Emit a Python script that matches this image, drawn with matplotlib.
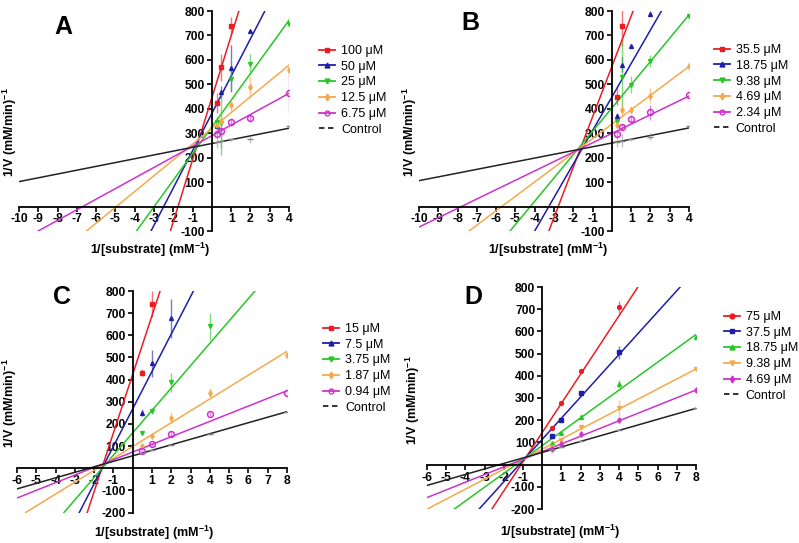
import numpy as np
import matplotlib
matplotlib.use("Agg")
import matplotlib.pyplot as plt
from matplotlib.lines import Line2D

plt.rcParams['font.family'] = ['Liberation Sans', 'DejaVu Sans']
plt.rcParams['mathtext.fontset'] = 'custom'
plt.rcParams['mathtext.rm'] = 'Liberation Sans:bold'
plt.rcParams['mathtext.default'] = 'rm'
plt.rcParams['axes.unicode_minus'] = False

nan = np.nan
colores = ['#ec1c24', '#1e1ea8', '#27c627', '#f6a94c', '#cc33cc', '#222222']

# ---- Panel A ----
a_etiq = ['100 \u03bcM', '50 \u03bcM', '25 \u03bcM', '12.5 \u03bcM', '6.75 \u03bcM', 'Control']
a_x = [0.25, 0.5, 1, 2, 4]
a_y = [[423, 570, 740, nan, nan],
       [330, 470, 565, 718, nan],
       [345, 341, 522, 585, 748],
       [335, 348, 416, 490, 560],
       [298, 310, 344, 362, 464],
       [265, 270, 275, 275, 330]]
a_err = [[40, 55, 35, 0, 0],
         [15, 25, 95, 5, 0],
         [20, 130, 40, 40, 35],
         [15, 30, 25, 45, 30],
         [15, 15, 15, 15, 80],
         [25, 30, 5, 15, 30]]
a_pend = [253.5, 152.5, 109, 64.6, 43.3, 15.6]
a_corte = [445, 381, 326, 320, 290, 258]

# ---- Panel B ----
b_etiq = ['35.5 \u03bcM', '18.75 \u03bcM', '9.38 \u03bcM', '4.69 \u03bcM', '2.34 \u03bcM', 'Control']
b_x = [0.25, 0.5, 1, 2, 4]
b_y = [[450, 738, nan, nan, nan],
       [371, 580, 657, 788, nan],
       [351, 532, 498, 596, 781],
       [335, 396, 396, 454, 573],
       [298, 324, 358, 386, 457],
       [265, 270, 275, 286, 330]]
b_err = [[35, 80, 0, 0, 0],
         [10, 30, 10, 10, 0],
         [15, 140, 35, 25, 30],
         [15, 30, 15, 30, 25],
         [15, 15, 15, 30, 25],
         [20, 25, 5, 15, 30]]
b_pend = [206, 137, 95.3, 59, 38.3, 15.4]
b_corte = [573, 448, 403, 337, 299, 260]

# ---- Panel C ----
c_etiq = ['15 \u03bcM', '7.5 \u03bcM', '3.75 \u03bcM', '1.87 \u03bcM', '0.94 \u03bcM', 'Control']
c_x = [0.5, 1, 2, 4, 8]
c_y = [[431, 742, nan, nan, nan],
       [251, 473, 676, nan, nan],
       [158, 258, 387, 641, nan],
       [98, 147, 228, 341, 510],
       [78, 108, 155, 245, 341],
       [68, 81, 106, 156, 255]]
c_err = [[15, 60, 0, 0, 0],
         [15, 60, 90, 0, 0],
         [10, 15, 45, 60, 0],
         [10, 10, 25, 20, 25],
         [10, 8, 10, 8, 25],
         [5, 5, 5, 5, 5]]
c_pend = [264.6, 169, 101, 53.7, 34.6, 24.9]
c_corte = [424, 268, 160, 98, 73, 56]

# ---- Panel D ----
d_etiq = ['75 \u03bcM', '37.5 \u03bcM', '18.75 \u03bcM', '9.38 \u03bcM', '4.69 \u03bcM', 'Control']
d_x = [0.5, 1, 2, 4, 8]
d_y = [[163, 276, 422, 710, nan],
       [130, 201, 321, 505, nan],
       [96, 141, 216, 363, 575],
       [81, 111, 168, 256, 430],
       [69, 93, 136, 201, 334],
       [65, 80, 108, 157, 253]]
d_err = [[8, 8, 8, 25, 0],
         [8, 8, 8, 30, 0],
         [8, 8, 10, 20, 10],
         [5, 5, 10, 35, 5],
         [5, 5, 5, 5, 5],
         [3, 3, 3, 3, 3]]
d_pend = [131.6, 95.6, 62.5, 45.1, 34.6, 24.8]
d_corte = [145, 114, 86, 70, 59, 55]

marcas_abc = ['s', '^', 'v', 'd', 'o', '_']
marcas_d = ['o', 's', '^', 'v', 'd', '_']

W, H = 799., 543.
fig = plt.figure(figsize=(7.99, 5.43), dpi=100)


def panel(rect, xs, ys, errs, pend, corte, etiq, marcas, xlim, ylim, xt, yt, leg_pos):
	ax = fig.add_axes(rect)
	ax.set_xlim(xlim)
	ax.set_ylim(ylim)
	for i in range(6):
		c = colores[i]
		ax.axline((0, corte[i]), slope=pend[i], color=c, lw=1.1, zorder=2)
		y = np.array(ys[i], dtype=float)
		ok = ~np.isnan(y)
		x = np.array(xs)[ok]
		ec = '#999999' if i == 5 else c
		ax.errorbar(x, y[ok], yerr=np.array(errs[i])[ok], fmt='none', ecolor=ec,
		            elinewidth=1.0, capsize=0, alpha=0.6, zorder=3)
		if marcas[i] == 'o' and i == 4:
			ax.plot(x, y[ok], 'o', ms=4.2, mfc='none', mec=c, mew=1.1, zorder=4)
		elif i == 5:
			ax.plot(x, y[ok], '_', ms=4, color='#888888', mew=1.0, zorder=4)
		else:
			ax.plot(x, y[ok], marcas[i], ms=2.8, color=c, zorder=4)
	ax.spines['left'].set_position(('data', 0))
	ax.spines['bottom'].set_position(('data', 0))
	ax.spines['top'].set_visible(False)
	ax.spines['right'].set_visible(False)
	for s in ['left', 'bottom']:
		ax.spines[s].set_linewidth(1.3)
	ax.set_xticks(xt)
	ax.set_yticks(yt)
	ax.tick_params(direction='out', length=3.5, width=1.2, labelsize=8.7, pad=1.5)
	for t in ax.get_xticklabels() + ax.get_yticklabels():
		t.set_fontweight('bold')
	ax.patch.set_visible(False)

	manejadores = []
	for i in range(6):
		if i == 5:
			h = Line2D([], [], color='#222222', lw=1.3, ls=(0, (3, 2)))
		else:
			mfc = 'none' if (marcas[i] == 'o' and i == 4) else colores[i]
			h = Line2D([], [], color=colores[i], lw=1.3, marker=marcas[i], ms=3.5, mfc=mfc)
		manejadores.append(h)
	ax.legend(manejadores, etiq, loc='upper left', bbox_to_anchor=leg_pos,
	          bbox_transform=fig.transFigure, frameon=False, fontsize=9,
	          handlelength=1.3, handletextpad=0.45, labelspacing=0.3, borderpad=0,
	          borderaxespad=0)
	return ax


xt_ab = [-10, -9, -8, -7, -6, -5, -4, -3, -2, -1, 1, 2, 3, 4]
yt_ab = [-100, 100, 200, 300, 400, 500, 600, 700, 800]
xt_cd = [-6, -5, -4, -3, -2, -1, 1, 2, 3, 4, 5, 6, 7, 8]
yt_cd = [-200, -100, 100, 200, 300, 400, 500, 600, 700, 800]

panel([19 / W, 1 - 231 / H, 270 / W, 220 / H], a_x, a_y, a_err, a_pend, a_corte, a_etiq,
      marcas_abc, (-10, 4), (-100, 800), xt_ab, yt_ab, (319 / W, 1 - 45 / H))
panel([419 / W, 1 - 231 / H, 270 / W, 220 / H], b_x, b_y, b_err, b_pend, b_corte, b_etiq,
      marcas_abc, (-10, 4), (-100, 800), xt_ab, yt_ab, (714 / W, 1 - 44 / H))
panel([17 / W, 1 - 512.5 / H, 270 / W, 221.5 / H], c_x, c_y, c_err, c_pend, c_corte, c_etiq,
      marcas_abc, (-6, 8), (-200, 800), xt_cd, yt_cd, (323 / W, 1 - 323 / H))
panel([427 / W, 1 - 509 / H, 269 / W, 222 / H], d_x, d_y, d_err, d_pend, d_corte, d_etiq,
      marcas_d, (-6, 8), (-200, 800), xt_cd, yt_cd, (724 / W, 1 - 311 / H))

# letras y titulos de ejes
letras = [('A', 63, 27), ('B', 470, 23), ('C', 62, 297), ('D', 473, 297)]
for l, px, py in letras:
	fig.text(px / W, 1 - py / H, l, fontsize=18, fontweight='bold', ha='center', va='center')

ylab = '1/V (mM/min)$^{-1}$'
xlab = '1/[substrate] (mM$^{-1}$)'
for px, py in [(10, 132), (410, 132), (10, 403), (413, 400)]:
	fig.text(px / W, 1 - py / H, ylab, rotation=90, fontsize=9, fontweight='bold',
	         ha='center', va='center')
for px, py in [(150, 250), (548, 250), (154, 533), (560, 532)]:
	fig.text(px / W, 1 - py / H, xlab, fontsize=9, fontweight='bold', ha='center', va='center')

plt.savefig("out.png", dpi=100)
plt.close()
